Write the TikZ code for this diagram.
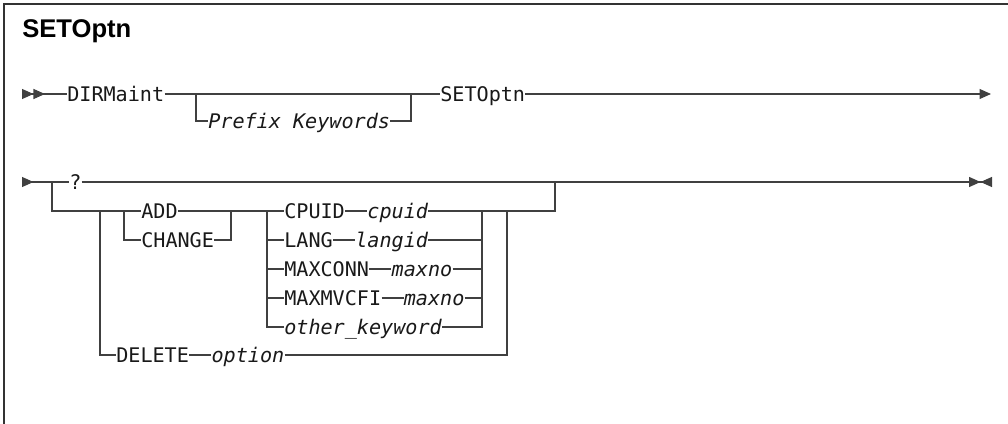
\documentclass[tikz,border=0pt]{standalone}
\usepackage{fontspec}
\setmainfont{Liberation Sans}
\setmonofont{DejaVu Sans Mono}
\usepackage{tikz}
\usetikzlibrary{arrows.meta, positioning}
\tikzstyle{keyword}  = [inner sep=0pt, anchor=west, text height=11pt, text depth=0pt,
                         font=\fontsize{15.1}{18}\selectfont\ttfamily, text=black!90]
\tikzstyle{argword}  = [keyword, font=\fontsize{15.1}{18}\selectfont\ttfamily\itshape]
\tikzstyle{headline} = [inner sep=0pt, anchor=base west,
                         font=\fontsize{19.2}{22}\selectfont\bfseries]
\tikzstyle{rail}     = [draw=black!75, line width=0.8pt]
\tikzstyle{boxline}  = [draw=black!80, line width=1pt]

\begin{document}
\begin{tikzpicture}[x=0.75pt, y=-0.75pt]
  \useasboundingbox (0,0) rectangle (1008,424);
  \draw[boxline] (4,424) -- (4,4) -- (1008,4);
  \node[headline] (head) at (22,38) {SETOptn};

  % first line
  \coordinate (r1s) at (22,94);
  \node[keyword] (dirm) at (67,94) {DIRMaint};
  \coordinate (pk1) at (196,94);
  \node[argword] (prefix) at (208,121) {Prefix Keywords};
  \coordinate (pk2) at (411,94);
  \node[keyword] (setop) at (440,94) {SETOptn};
  \coordinate (r1e) at (991,94);

  \draw[rail, {Triangle[reversed,length=8.6pt,width=7.5pt,sep=0pt]Triangle[reversed,length=8.6pt,width=7.5pt]}-]
    (r1s) -- (dirm.west);
  \draw[rail] (dirm.east) -- (setop.west);
  \draw[rail] (pk1) |- (prefix.west);
  \draw[rail] (prefix.east) -| (pk2);
  \draw[rail, -{Triangle[length=8.6pt,width=7.5pt]}] (setop.east) -- (r1e);

  % second line
  \coordinate (r2s) at (22,182);
  \coordinate (q1) at (52,182);
  \node[keyword] (ques) at (69,182) {?};
  \coordinate (q2) at (555,182);
  \coordinate (mk1) at (560,182);
  \coordinate (mk2) at (583,182);
  \coordinate (r2e) at (992,182);

  \node[keyword] (add) at (141,211) {ADD};
  \node[keyword] (change) at (141,240) {CHANGE};
  \coordinate (ac1) at (124,211);
  \coordinate (ac2) at (231,211);

  \node[keyword] (cpuidk) at (284,211) {CPUID};
  \node[argword, right=16.5pt of cpuidk] (cpuidv) {cpuid};
  \node[keyword] (langk) at (284,240) {LANG};
  \node[argword, right=16.5pt of langk] (langv) {langid};
  \node[keyword] (conk) at (284,269) {MAXCONN};
  \node[argword, right=16.5pt of conk] (conv) {maxno};
  \node[keyword] (mvck) at (284,298) {MAXMVCFI};
  \node[argword, right=16.5pt of mvck] (mvcv) {maxno};
  \node[argword] (otherk) at (284,327) {other\_keyword};
  \coordinate (kw1) at (267,211);
  \coordinate (kw2) at (482,211);

  \node[keyword] (delk) at (116,355) {DELETE};
  \node[argword, right=16.5pt of delk] (delv) {option};
  \coordinate (d1) at (100,211);
  \coordinate (d2) at (507,211);

  \draw[rail, {Triangle[reversed,length=8.6pt,width=7.5pt]}-] (r2s) -- (ques.west);
  \draw[rail, -{Triangle[length=8.6pt,width=7.5pt,sep=0pt]Triangle[reversed,length=8.6pt,width=7.5pt]}]
    (ques.east) -- (r2e);
  \draw[rail, line width=1.8pt] (mk1) -- (mk2);
  \draw[rail] (q1) |- (add.west);
  \draw[rail] (add.east) -- (cpuidk.west);
  \draw[rail] (ac1) |- (change.west);
  \draw[rail] (change.east) -| (ac2);
  \draw[rail] (cpuidk.east) -- (cpuidv.west);
  \draw[rail] (cpuidv.east) -| (q2);
  \foreach \k/\v in {langk/langv, conk/conv, mvck/mvcv} {
    \draw[rail] (kw1 |- \k.west) -- (\k.west);
    \draw[rail] (\k.east) -- (\v.west);
    \draw[rail] (\v.east) -- (kw2 |- \v.east);
  }
  \draw[rail] (kw1) |- (otherk.west);
  \draw[rail] (otherk.east) -| (kw2);
  \draw[rail] (d1) |- (delk.west);
  \draw[rail] (delk.east) -- (delv.west);
  \draw[rail] (delv.east) -| (d2);
\end{tikzpicture}
\end{document}
